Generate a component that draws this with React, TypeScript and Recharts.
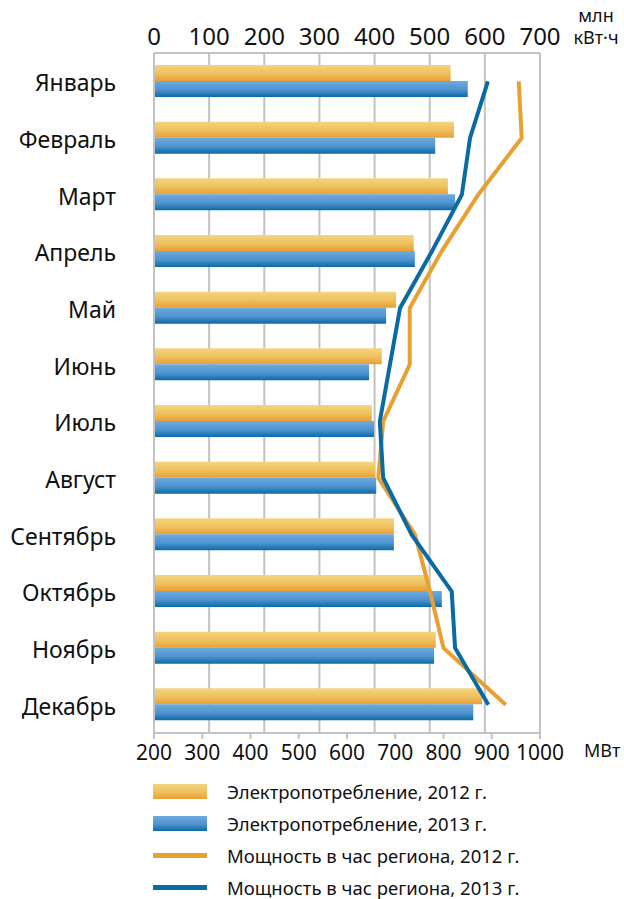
import { ComposedChart, Bar, Line, XAxis, YAxis, CartesianGrid } from 'recharts'

const months = ['Январь', 'Февраль', 'Март', 'Апрель', 'Май', 'Июнь', 'Июль', 'Август', 'Сентябрь', 'Октябрь', 'Ноябрь', 'Декабрь']
const consumption2012 = [538, 544, 533, 471, 439, 413, 395, 401, 435, 500, 511, 595]
const consumption2013 = [569, 510, 546, 473, 421, 390, 399, 403, 435, 522, 508, 579]
const power2012 = [956, 962, 872, 796, 730, 730, 675, 665, 741, 772, 800, 929]
const power2013 = [892, 855, 838, 776, 710, 689, 668, 675, 734, 817, 824, 893]
const energyTicks = [0, 100, 200, 300, 400, 500, 600, 700]
const powerTicks = [200, 300, 400, 500, 600, 700, 800, 900, 1000]

const legendItems = [
  { label: 'Электропотребление, 2012 г.', kind: 'bar', fill: 'linear-gradient(#f3d57f, #efbf5c 55%, #e79f33)' },
  { label: 'Электропотребление, 2013 г.', kind: 'bar', fill: 'linear-gradient(#6eaade, #4f93cf 55%, #0a6aa5)' },
  { label: 'Мощность в час региона, 2012 г.', kind: 'line', fill: '#e9a033' },
  { label: 'Мощность в час региона, 2013 г.', kind: 'line', fill: '#0a6aa3' },
]

const data = months.map((month, i) => ({
  month,
  c2012: consumption2012[i],
  c2013: consumption2013[i],
  p2012: power2012[i],
  p2013: power2013[i],
}))

const font = '"Noto Sans", "Open Sans", sans-serif'
const gridColor = '#c2c2c2'

export default function App() {
  return (
    <div style={{ position: 'absolute', left: 0, top: 0, width: 624, height: 899, fontFamily: font, background: '#fff' }}>
      <ComposedChart
        layout="vertical"
        width={624}
        height={899}
        data={data}
        margin={{ top: 0, right: 84, bottom: 0, left: 0 }}
        barGap={0}
        barSize={16}
      >
        <defs>
          <linearGradient id="gYellow" x1="0" y1="0" x2="0" y2="1">
            <stop offset="0%" stopColor="#f3d57f" />
            <stop offset="55%" stopColor="#efbf5c" />
            <stop offset="100%" stopColor="#e79f33" />
          </linearGradient>
          <linearGradient id="gBlue" x1="0" y1="0" x2="0" y2="1">
            <stop offset="0%" stopColor="#6eaade" />
            <stop offset="55%" stopColor="#4f93cf" />
            <stop offset="100%" stopColor="#0a6aa5" />
          </linearGradient>
        </defs>
        <CartesianGrid xAxisId="top" horizontal={false} stroke={gridColor} strokeWidth={2} />
        <XAxis
          xAxisId="top"
          orientation="top"
          type="number"
          domain={[0, 700]}
          ticks={energyTicks}
          height={53}
          tickLine={false}
          tickSize={0}
          tickMargin={8}
          axisLine={{ stroke: gridColor, strokeWidth: 2 }}
          tick={{ fontSize: 24, fill: '#111', fontFamily: font }}
        />
        <XAxis
          xAxisId="bottom"
          orientation="bottom"
          type="number"
          domain={[200, 1000]}
          ticks={powerTicks}
          height={166}
          tickSize={6}
          tickMargin={6}
          tickLine={{ stroke: gridColor, strokeWidth: 2 }}
          axisLine={{ stroke: gridColor, strokeWidth: 2 }}
          tick={{ fontSize: 21, fill: '#111', fontFamily: font }}
        />
        <YAxis
          type="category"
          dataKey="month"
          width={154}
          tickLine={false}
          tickSize={0}
          tickMargin={38}
          axisLine={{ stroke: gridColor, strokeWidth: 2 }}
          tick={{ fontSize: 23, fill: '#111', fontFamily: font, dy: 2 }}
        />
        <Bar xAxisId="top" dataKey="c2012" fill="url(#gYellow)" isAnimationActive={false} />
        <Bar xAxisId="top" dataKey="c2013" fill="url(#gBlue)" isAnimationActive={false} />
        <Line xAxisId="bottom" dataKey="p2012" stroke="#e9a033" strokeWidth={4} dot={false} isAnimationActive={false} />
        <Line xAxisId="bottom" dataKey="p2013" stroke="#0a6aa3" strokeWidth={4} dot={false} isAnimationActive={false} />
      </ComposedChart>

      <div style={{ position: 'absolute', left: 573, top: 4, width: 46, textAlign: 'center', fontSize: 18, lineHeight: '22px', color: '#111' }}>
        млн<br />кВт·ч
      </div>
      <div style={{ position: 'absolute', left: 584, top: 738, fontSize: 18, color: '#111' }}>МВт</div>

      <div style={{ position: 'absolute', left: 153, top: 775 }}>
        {legendItems.map((item) => (
          <div key={item.label} style={{ display: 'flex', alignItems: 'center', height: 32 }}>
            <div style={{ width: 54, display: 'flex', alignItems: 'center' }}>
              <div
                style={{
                  width: 54,
                  height: item.kind === 'bar' ? 15 : 5,
                  background: item.fill,
                }}
              />
            </div>
            <span style={{ marginLeft: 20, fontSize: 18.5, color: '#111' }}>{item.label}</span>
          </div>
        ))}
      </div>
    </div>
  )
}
